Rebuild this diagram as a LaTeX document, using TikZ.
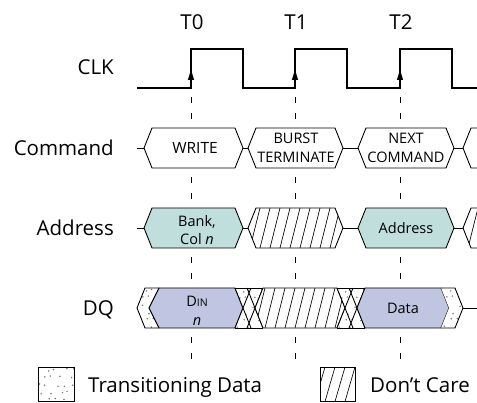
\documentclass[tikz,border=0pt]{standalone}
\usepackage{fontspec}
\setmainfont{Open Sans}
\definecolor{addrfill}{RGB}{192,222,220}
\definecolor{datafill}{RGB}{192,198,225}
\definecolor{dotc}{RGB}{120,120,120}
\tikzset{
  sig/.style={line width=1.1pt},
  outl/.style={line width=0.9pt},
  bigtxt/.style={font=\fontsize{20.5}{24}\selectfont, inner sep=0pt},
  boxtxt/.style={font=\fontsize{14.5}{18.5}\selectfont, align=center, inner sep=0pt},
  guide/.style={line width=0.8pt, dash pattern=on 6pt off 10pt},
}
% hexagon path: left point x, right point x, center y
\newcommand\hexpath[3]{(#1,#3) -- (#1+8,#3-20) -- (#2-8,#3-20) -- (#2,#3) -- (#2-8,#3+20) -- (#1+8,#3+20) -- cycle}
% hatching over x range starting at #1, #2 lines, top #3, bottom #4
\newcommand\hatchlines[4]{\foreach \k in {0,...,#2}{\draw[line width=0.65pt] (#1+\k*10,#4) -- (#1+\k*10+10,#3);}}
% stipple dots over a box x0,y0, nx, ny
\newcommand\stipdots[4]{\foreach \j in {0,...,#4}{\foreach \i in {0,...,#3}{%
  \pgfmathsetmacro\sdx{#1+\i*9+2.5*sin(\i*137+\j*71)+mod(\j,2)*4.5}%
  \pgfmathsetmacro\sdy{#2+\j*7.5+1.5*cos(\i*53+\j*113)}%
  \fill[dotc] (\sdx,\sdy) circle (0.85);}}}
\begin{document}
\begin{tikzpicture}[x=1pt,y=-1pt]
\useasboundingbox (0,0) rectangle (477,403);
% time labels
\node[bigtxt] (t0) at (192,22) {T0};
\node[bigtxt] (t1) at (296,22) {T1};
\node[bigtxt] (t2) at (401,22) {T2};
% signal labels
\node[bigtxt, anchor=base east] (lclk) at (114,74.5) {CLK};
\node[bigtxt, anchor=base east] (lcmd) at (114,155.5) {Command};
\node[bigtxt, anchor=base east] (ladr) at (114,235.5) {Address};
\node[bigtxt, anchor=base east] (ldq) at (114,315.5) {DQ};
% guide lines
\foreach \x in {191,295,400}{\draw[guide] (\x,97) -- (\x,360);}
% clock
\draw[sig] (137,88) -- (191,88) -- (191,49) -- (243,49) -- (243,88) -- (295,88) -- (295,49) -- (347,49) -- (347,88) -- (400,88) -- (400,49) -- (452,49) -- (452,88) -- (480,88);
\foreach \x in {191,295,400}{\fill (\x,70) -- (\x-3.2,80) -- (\x+3.2,80) -- cycle;}
% ---------- Command row (center 148)
\draw[outl] (137,148) -- (144,148);
\draw[outl, fill=white] \hexpath{144}{243}{148};
\draw[outl] (243,148) -- (248,148);
\draw[outl, fill=white] \hexpath{248}{343}{148};
\draw[outl] (343,148) -- (358,148);
\draw[outl, fill=white] \hexpath{358}{454}{148};
\draw[outl] (454,148) -- (463,148);
\draw[outl, fill=white] (490,128) -- (471,128) -- (463,148) -- (471,168) -- (490,168);
\node[boxtxt, font=\fontsize{15.5}{18.5}\selectfont] (cwrite) at (195,148) {WRITE};
\node[boxtxt] (cburst) at (296,148) {BURST\\TERMINATE};
\node[boxtxt] (cnext) at (406,148) {NEXT\\COMMAND};
% ---------- Address row (center 228)
\draw[outl] (137,228) -- (144,228);
\draw[outl, fill=addrfill] \hexpath{144}{243}{228};
\draw[outl] (243,228) -- (248,228);
\begin{scope}
  \clip \hexpath{248}{343}{228};
  \fill[white] (240,200) rectangle (350,256);
  \hatchlines{240}{11}{208}{248}
\end{scope}
\draw[outl] \hexpath{248}{343}{228};
\draw[outl] (343,228) -- (358,228);
\draw[outl, fill=addrfill] \hexpath{358}{454}{228};
\draw[outl] (454,228) -- (463,228);
\begin{scope}
  \clip (490,208) -- (471,208) -- (463,228) -- (471,248) -- (490,248) -- cycle;
  \hatchlines{458}{3}{208}{248}
\end{scope}
\draw[outl] (490,208) -- (471,208) -- (463,228) -- (471,248) -- (490,248);
\node[boxtxt] (abank) at (197,230) {Bank,\\Col \textit{n}};
\node[boxtxt] (aaddr) at (406,228) {Address};
% ---------- DQ row (center 308)
% left transition band
\fill[white] (137,308) -- (145,288) -- (159,288) -- (149,308) -- (159,328) -- (145,328) -- cycle;
\begin{scope}
  \clip (137,308) -- (145,288) -- (159,288) -- (149,308) -- (159,328) -- (145,328) -- cycle;
  \stipdots{136}{290}{3}{5}
\end{scope}
\draw[outl] (159,288) -- (145,288) -- (137,308) -- (145,328) -- (159,328);
\draw[outl, fill=datafill] (149,308) -- (159,288) -- (235,288) -- (243,308) -- (235,328) -- (159,328) -- cycle;
% transition Din -> don't care
\fill[white] (235,288) -- (263,288) -- (255,308) -- (263,328) -- (235,328) -- (243,308) -- cycle;
\begin{scope}
  \clip (235,288) -- (263,288) -- (255,308) -- (263,328) -- (235,328) -- (243,308) -- cycle;
  \stipdots{233}{291}{3}{5}
\end{scope}
\draw[outl] (235,288) -- (251,328) (235,328) -- (251,288) (247,288) -- (263,328) (247,328) -- (263,288);
\begin{scope}
  \clip \hexpath{255}{345}{308};
  \fill[white] (240,280) rectangle (350,336);
  \hatchlines{245}{10}{288}{328}
\end{scope}
\draw[outl] \hexpath{255}{345}{308};
\draw[outl] (235,288) -- (263,288) (235,328) -- (263,328);
% transition don't care -> Data
\fill[white] (337,288) -- (365,288) -- (357,308) -- (365,328) -- (337,328) -- (345,308) -- cycle;
\begin{scope}
  \clip (337,288) -- (365,288) -- (357,308) -- (365,328) -- (337,328) -- (345,308) -- cycle;
  \stipdots{335}{291}{4}{5}
\end{scope}
\draw[outl] (337,288) -- (353,328) (337,328) -- (353,288) (349,288) -- (365,328) (349,328) -- (365,288);
\draw[outl, fill=datafill] \hexpath{357}{449}{308};
\draw[outl] (337,288) -- (365,288) (337,328) -- (365,328);
% right transition band
\fill[white] (441,288) -- (455,288) -- (463,308) -- (455,328) -- (441,328) -- (449,308) -- cycle;
\begin{scope}
  \clip (441,288) -- (455,288) -- (463,308) -- (455,328) -- (441,328) -- (449,308) -- cycle;
  \stipdots{440}{290}{3}{5}
\end{scope}
\draw[outl] (441,288) -- (455,288) -- (463,308) -- (455,328) -- (441,328);
\draw[outl] (463,308) -- (480,308);
\node[boxtxt] (ddin) at (197,311) {D{\fontsize{10.5}{12}\selectfont IN}\\\textit{n}};
\node[boxtxt] (ddata) at (403,308) {Data};
% ---------- legend
\fill[white] (38,367) rectangle (74,401.5);
\begin{scope}
  \clip (38,367) rectangle (74,401.5);
  \stipdots{38}{370}{4}{4}
\end{scope}
\draw[outl] (38,367) rectangle (74,401.5);
\node[bigtxt, anchor=base west] (legtr) at (88,392.5) {Transitioning Data};
\begin{scope}
  \clip (320,367) rectangle (355,401.5);
  \hatchlines{305}{5}{367}{401.5}
\end{scope}
\draw[outl] (320,367) rectangle (355,401.5);
\node[bigtxt, anchor=base west] (legdc) at (370,392.5) {Don’t Care};
\end{tikzpicture}
\end{document}
